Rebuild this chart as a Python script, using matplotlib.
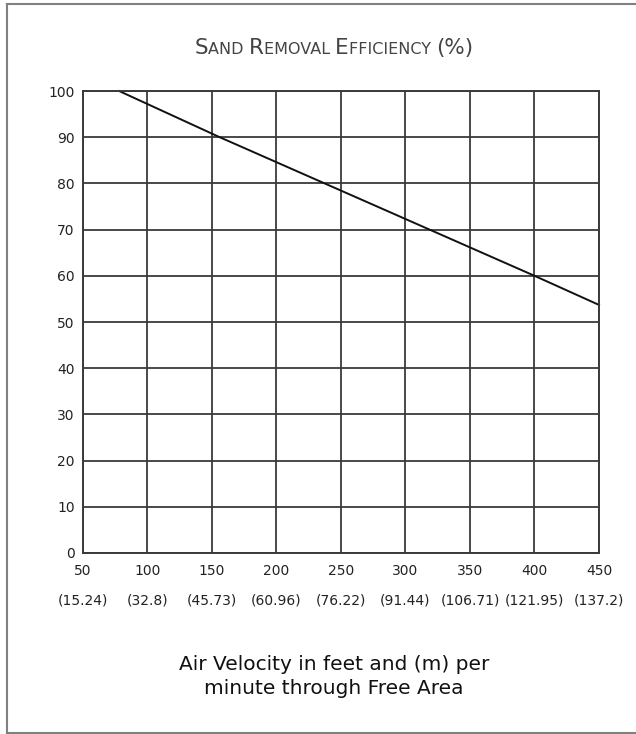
import matplotlib.pyplot as plt
from matplotlib.lines import Line2D
from matplotlib.offsetbox import TextArea, HPacker, AnchoredOffsetbox

# data
velocity_fpm = [50, 100, 150, 200, 250, 300, 350, 400, 450]
velocity_m = ["(15.24)", "(32.8)", "(45.73)", "(60.96)", "(76.22)",
              "(91.44)", "(106.71)", "(121.95)", "(137.2)"]
efficiency_ticks = [0, 10, 20, 30, 40, 50, 60, 70, 80, 90, 100]
line_x = [78, 156, 400, 450]
line_y = [100, 90, 60, 53.7]

plt.rcParams['font.family'] = ['DejaVu Sans']

fig = plt.figure(figsize=(6.36, 7.34), dpi=100)
ax = fig.add_axes([0.1305, 0.2466, 0.8113, 0.6294])

grid_color = "#3a3a3a"
ax.set_xlim(50, 450)
ax.set_ylim(0, 100)
ax.set_xticks(velocity_fpm)
ax.set_yticks(efficiency_ticks)
ax.grid(True, color=grid_color, linewidth=1.3)
ax.set_axisbelow(True)
for s in ax.spines.values():
    s.set_color(grid_color)
    s.set_linewidth(1.4)
ax.tick_params(length=0, labelsize=10, colors="#222222")
ax.tick_params(axis="x", pad=8)
ax.tick_params(axis="y", pad=6)

ax.plot(line_x, line_y, color="#111111", linewidth=1.4, clip_on=False)

# metric velocities under the feet labels
for v, m in zip(velocity_fpm, velocity_m):
    ax.annotate(m, xy=(v, 0), xycoords=("data", "axes fraction"),
                xytext=(0, -34), textcoords="offset points",
                ha="center", va="center", fontsize=10, color="#222222")

# small-caps title
big, small = 15.5, 11.5
title_color = "#444444"
parts = []
for word in ["Sand", "Removal", "Efficiency"]:
    parts.append(TextArea(word[0], textprops=dict(size=big, color=title_color)))
    parts.append(TextArea(word[1:].upper() + " ", textprops=dict(size=small, color=title_color)))
parts.append(TextArea("(%)", textprops=dict(size=big, color=title_color)))
title_box = HPacker(children=parts, align="baseline", pad=0, sep=0)
anchored = AnchoredOffsetbox(loc="center", child=title_box, pad=0, borderpad=0,
                             frameon=False, bbox_to_anchor=(0.525, 0.935),
                             bbox_transform=fig.transFigure)
fig.add_artist(anchored)

fig.text(0.525, 0.078, "Air Velocity in feet and (m) per\nminute through Free Area",
         ha="center", va="center", fontsize=14.5, linespacing=1.3, color="#111111")

# outer frame (left, top, bottom)
frame_kw = dict(color="#808080", linewidth=1.5, transform=fig.transFigure)
fig.add_artist(Line2D([0.011, 0.011], [0.0014, 0.9946], **frame_kw))
fig.add_artist(Line2D([0.011, 1.0], [0.9946, 0.9946], **frame_kw))
fig.add_artist(Line2D([0.011, 1.0], [0.0014, 0.0014], **frame_kw))

fig.savefig("out.png", dpi=100)
